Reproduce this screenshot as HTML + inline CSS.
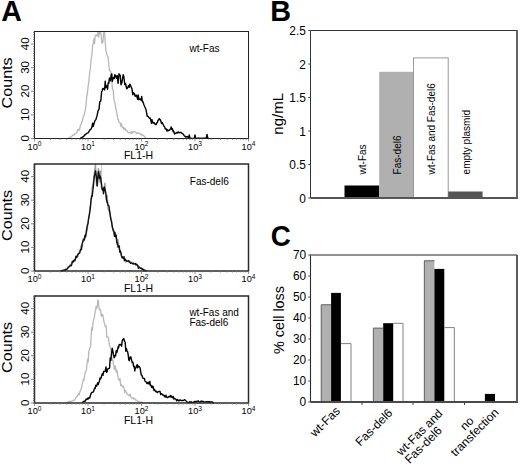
<!DOCTYPE html>
<html><head><meta charset="utf-8"><style>
html,body{margin:0;padding:0;background:#fff;width:520px;height:466px;overflow:hidden;}
svg{display:block;}
text{font-family:"Liberation Sans", sans-serif;fill:#000;}
</style></head><body>
<svg width="520" height="466" viewBox="0 0 520 466">
<text x="0" y="0" font-size="29" font-weight="bold" transform="translate(1.3,21.2) scale(0.985,1)">A</text>
<path d="M67.50,138.50L68.10,138.43L68.70,138.28L69.30,137.74L69.90,137.25L70.50,136.87L71.00,137.00L71.70,136.50L72.30,135.61L72.90,134.94L73.50,135.28L74.10,134.82L74.70,134.62L75.30,133.32L75.90,133.44L76.50,133.00L77.10,131.93L77.70,129.78L78.30,130.36L78.90,129.16L79.50,130.04L80.00,127.19L80.70,124.75L81.30,124.45L81.90,121.53L82.50,120.61L83.10,117.23L84.00,115.30L84.90,112.02L85.50,108.59L86.00,105.21L86.70,96.84L87.30,94.23L87.90,88.19L88.80,81.54L89.70,72.62L90.30,69.45L90.90,61.50L91.50,56.89L92.00,53.74L92.70,44.90L93.30,43.11L94.00,38.61L94.50,43.80L95.10,35.89L96.00,34.88L96.90,36.12L97.50,34.45L98.00,31.60L98.70,37.18L99.30,31.90L100.00,33.58L100.50,31.50L101.10,34.93L102.00,43.49L102.90,42.21L103.50,33.33L104.50,31.50L105.30,42.88L106.00,51.92L106.50,52.67L107.10,55.73L108.00,56.53L108.90,65.77L109.50,70.55L110.10,70.49L110.70,71.86L111.70,79.39L112.50,89.13L113.10,89.28L114.00,99.84L114.90,102.51L115.50,106.69L116.10,109.28L116.70,112.43L117.70,118.95L118.50,119.70L119.10,122.39L119.70,122.30L120.30,123.58L121.00,126.38L121.50,123.75L122.10,127.06L122.70,127.85L123.30,127.20L123.90,129.30L124.50,129.03L125.00,127.99L125.70,130.25L126.30,130.02L126.90,130.74L127.50,131.39L128.10,132.76L128.70,132.29L129.30,132.56L130.00,133.00L130.50,133.16L131.10,131.57L131.70,133.50L132.30,131.80L132.90,132.72L133.50,131.51L134.10,131.49L135.00,132.00L135.90,132.09L136.50,133.89L137.10,133.30L137.70,132.69L138.30,133.14L138.90,132.84L139.50,133.78L140.00,134.00L140.70,134.02L141.30,135.05L141.90,134.23L142.50,135.08L143.10,135.15L144.00,136.00L144.90,136.89L145.50,138.03L146.00,138.50" fill="none" stroke="#b8b8b8" stroke-width="1.3" stroke-linejoin="round"/>
<path d="M80.00,138.50L80.60,138.50L81.20,137.59L81.80,137.49L82.40,137.05L83.00,136.95L84.00,136.00L84.80,134.71L85.40,134.73L86.00,134.08L86.60,133.42L87.20,133.08L88.00,133.00L89.00,131.29L89.60,130.64L90.20,129.33L91.00,129.36L92.00,126.82L92.60,123.21L93.20,126.54L94.00,123.58L95.00,120.64L96.00,119.33L96.80,116.50L97.40,114.17L98.00,110.77L99.00,109.29L99.80,101.82L100.80,101.06L101.60,91.93L102.20,90.73L102.70,88.54L103.40,89.12L104.00,88.36L104.60,89.95L105.20,81.26L105.80,87.46L106.40,86.81L107.00,85.71L107.50,89.23L108.20,82.71L108.80,83.31L109.40,78.00L110.40,80.80L111.20,75.01L111.80,73.82L112.30,81.43L113.00,78.50L113.60,77.56L114.20,78.59L114.80,74.76L115.40,75.30L116.20,78.15L117.20,75.55L118.10,83.30L119.00,73.74L119.50,74.98L120.20,75.15L121.00,84.69L122.00,82.16L122.60,78.25L123.20,74.66L123.80,76.49L124.80,84.61L125.60,83.51L126.20,86.76L126.80,88.82L127.70,87.63L128.60,85.61L129.20,87.27L129.80,84.22L130.60,85.51L132.00,88.91L132.80,94.75L133.40,92.64L134.40,93.80L135.20,96.40L135.80,95.41L136.40,95.20L137.00,97.04L137.60,99.37L138.20,94.91L139.00,99.70L140.00,99.14L140.60,98.92L141.20,100.39L141.70,96.44L142.40,101.76L143.00,101.79L144.00,104.98L144.80,106.70L145.40,108.22L146.00,109.63L146.50,112.43L147.20,116.23L148.00,116.30L149.00,117.70L149.60,118.32L150.20,118.03L150.80,120.41L151.50,123.34L152.00,119.62L152.60,122.42L153.20,122.93L153.80,122.39L154.40,123.28L155.40,124.45L156.20,124.50L156.80,122.78L157.40,122.52L158.00,120.23L158.60,120.15L159.20,118.63L159.80,119.65L160.40,119.59L161.00,121.83L161.60,123.57L162.20,122.59L163.00,124.21L164.00,126.32L164.60,126.77L165.20,128.67L165.80,129.08L166.40,128.94L167.00,131.00L167.60,129.76L168.20,130.79L168.80,130.34L169.40,130.37L170.00,129.27L170.60,128.85L171.20,126.86L171.70,129.24L172.40,128.63L173.00,131.48L173.60,131.08L174.60,134.00L175.40,133.15L176.00,133.36L176.60,132.67L177.20,132.17L177.80,132.96L178.50,132.00L179.00,132.66L179.60,132.69L180.20,132.42L180.80,132.34L181.40,132.82L182.30,133.50L183.20,134.11L183.80,135.01L184.40,136.01L185.00,136.19L186.00,137.30L186.80,136.58L187.50,136.50L188.00,137.21L188.50,138.30L189.30,135.00L190.00,138.30L191.00,138.46L191.60,138.32L192.20,138.33L192.80,138.33L193.40,138.37L194.30,138.30L195.00,135.00L195.70,138.30L196.40,138.32L197.00,138.45L197.60,138.40L198.20,137.94L198.80,138.28L199.40,138.50L200.00,138.14L200.60,138.31L201.20,138.43L201.80,138.30L202.40,138.47L203.00,138.14L203.60,138.14L204.20,138.28L204.80,138.21L205.40,138.16L206.20,138.30L207.00,134.50L207.80,138.30L208.40,138.45L209.00,138.50" fill="none" stroke="#000" stroke-width="1.4" stroke-linejoin="round"/>
<rect x="34.5" y="31.5" width="214.0" height="107.0" fill="none" stroke="#222" stroke-width="1"/>
<path d="M31.0,138.50H34.5M33.0,136.14H34.5M33.0,133.78H34.5M33.0,131.42H34.5M33.0,129.06H34.5M33.0,126.70H34.5M33.0,124.34H34.5M33.0,121.98H34.5M33.0,119.62H34.5M33.0,117.26H34.5M31.0,114.90H34.5M33.0,112.54H34.5M33.0,110.18H34.5M33.0,107.82H34.5M33.0,105.46H34.5M33.0,103.10H34.5M33.0,100.74H34.5M33.0,98.38H34.5M33.0,96.02H34.5M33.0,93.66H34.5M31.0,91.30H34.5M33.0,88.94H34.5M33.0,86.58H34.5M33.0,84.22H34.5M33.0,81.86H34.5M33.0,79.50H34.5M33.0,77.14H34.5M33.0,74.78H34.5M33.0,72.42H34.5M33.0,70.06H34.5M31.0,67.70H34.5M33.0,65.34H34.5M33.0,62.98H34.5M33.0,60.62H34.5M33.0,58.26H34.5M33.0,55.90H34.5M33.0,53.54H34.5M33.0,51.18H34.5M33.0,48.82H34.5M33.0,46.46H34.5M31.0,44.10H34.5M33.0,41.74H34.5M33.0,39.38H34.5M33.0,37.02H34.5M33.0,34.66H34.5M33.0,32.30H34.5" stroke="#666" stroke-width="0.8" fill="none"/>
<path d="M34.50,138.5V141.5M50.61,138.5V140.1M60.03,138.5V140.1M66.71,138.5V140.1M71.89,138.5V140.1M76.13,138.5V140.1M79.71,138.5V140.1M82.82,138.5V140.1M85.55,138.5V140.1M88.00,138.5V141.5M104.11,138.5V140.1M113.53,138.5V140.1M120.21,138.5V140.1M125.39,138.5V140.1M129.63,138.5V140.1M133.21,138.5V140.1M136.32,138.5V140.1M139.05,138.5V140.1M141.50,138.5V141.5M157.61,138.5V140.1M167.03,138.5V140.1M173.71,138.5V140.1M178.89,138.5V140.1M183.13,138.5V140.1M186.71,138.5V140.1M189.82,138.5V140.1M192.55,138.5V140.1M195.00,138.5V141.5M211.11,138.5V140.1M220.53,138.5V140.1M227.21,138.5V140.1M232.39,138.5V140.1M236.63,138.5V140.1M240.21,138.5V140.1M243.32,138.5V140.1M246.05,138.5V140.1M248.50,138.5V141.5" stroke="#777" stroke-width="0.8" fill="none"/>
<text transform="translate(28.8,138.20) rotate(-90)" text-anchor="middle" font-size="11.5">0</text>
<text transform="translate(28.8,114.60) rotate(-90)" text-anchor="middle" font-size="11.5">10</text>
<text transform="translate(28.8,91.00) rotate(-90)" text-anchor="middle" font-size="11.5">20</text>
<text transform="translate(28.8,67.40) rotate(-90)" text-anchor="middle" font-size="11.5">30</text>
<text transform="translate(28.8,43.80) rotate(-90)" text-anchor="middle" font-size="11.5">40</text>
<text x="34.50" y="149.7" text-anchor="middle" font-size="9.2">10<tspan font-size="6.6" dy="-3.6">0</tspan></text>
<text x="88.00" y="149.7" text-anchor="middle" font-size="9.2">10<tspan font-size="6.6" dy="-3.6">1</tspan></text>
<text x="141.50" y="149.7" text-anchor="middle" font-size="9.2">10<tspan font-size="6.6" dy="-3.6">2</tspan></text>
<text x="195.00" y="149.7" text-anchor="middle" font-size="9.2">10<tspan font-size="6.6" dy="-3.6">3</tspan></text>
<text x="248.50" y="149.7" text-anchor="middle" font-size="9.2">10<tspan font-size="6.6" dy="-3.6">4</tspan></text>
<text x="138.5" y="159.2" text-anchor="middle" font-size="10.5">FL1-H</text>
<text transform="translate(11.6,82.9) rotate(-90) scale(1.07,1)" text-anchor="middle" font-size="15.1">Counts</text>
<text x="189.5" y="52.2" font-size="10">wt-Fas</text>
<path d="M61.00,271.00L61.60,270.82L62.20,270.84L62.80,270.23L63.40,270.48L64.00,269.98L64.60,269.78L65.20,270.28L65.80,269.53L66.40,269.27L67.00,269.10L67.60,268.73L68.20,268.27L68.80,266.98L69.40,266.65L70.00,264.96L70.60,264.64L71.20,263.87L71.80,262.47L72.40,261.58L73.00,260.72L73.50,261.29L74.20,260.40L74.80,259.44L75.40,258.99L76.00,256.77L76.60,257.22L77.20,256.74L77.80,256.50L78.40,253.91L79.00,253.59L79.70,250.71L80.20,250.76L80.80,246.45L81.40,245.32L82.20,246.09L83.20,238.27L83.80,241.13L84.40,238.68L85.00,235.91L85.60,235.47L86.50,233.02L87.40,228.92L88.00,223.12L88.60,218.96L89.10,216.06L89.80,208.97L90.40,205.70L91.00,198.65L91.60,199.26L92.20,188.24L93.20,183.68L94.20,174.92L95.50,164.00L96.50,185.57L97.20,179.26L98.50,168.70L99.50,177.09L100.00,182.07L100.60,171.10L101.50,188.28L102.30,189.67L103.00,190.53L103.50,188.81L104.20,189.88L104.90,183.06L105.40,190.12L106.00,196.36L106.60,202.71L107.20,195.51L108.00,208.37L109.00,211.16L109.80,211.36L110.80,217.95L111.40,219.34L112.30,227.84L113.20,228.54L113.80,230.08L114.40,232.38L115.00,234.74L115.50,236.71L116.20,237.78L116.80,244.18L117.40,240.04L118.00,239.56L118.70,246.73L119.20,248.36L119.80,251.00L120.40,252.26L121.00,254.32L121.70,257.15L122.20,258.19L122.80,257.17L123.40,257.71L124.00,260.45L124.60,259.50L125.20,258.50L125.80,262.06L126.60,261.20L127.60,260.49L128.20,260.29L128.80,261.88L129.40,261.23L130.00,261.36L130.60,261.49L131.50,262.60L132.40,264.08L133.00,263.02L133.60,262.39L134.20,264.16L134.80,263.84L135.40,264.56L136.00,264.97L136.50,264.20L137.20,264.78L137.80,265.40L138.40,266.07L139.00,266.04L139.60,267.66L140.20,267.90L140.80,268.84L141.40,268.58L142.00,268.70L142.60,269.00L143.20,269.12L143.80,269.44L144.40,269.89L145.00,270.10L145.60,270.52L146.40,271.00" fill="none" stroke="#9a9a9a" stroke-width="1.3" stroke-linejoin="round"/>
<path d="M61.00,271.00L61.60,270.81L62.20,270.70L62.80,270.33L63.40,270.33L64.00,270.30L64.60,269.98L65.20,270.17L65.80,269.17L66.40,269.31L67.00,269.10L67.60,268.08L68.20,267.30L68.80,266.89L69.40,266.43L70.00,265.87L70.60,265.24L71.20,265.82L71.80,264.15L72.40,261.51L73.00,262.26L73.50,260.96L74.20,260.08L74.80,260.97L75.40,258.71L76.00,256.15L76.60,257.62L77.20,256.18L77.80,254.39L78.40,253.83L79.00,253.33L79.70,253.07L80.20,250.85L80.80,249.41L81.40,249.76L82.20,243.35L83.20,240.39L83.80,239.50L84.40,239.91L85.00,235.26L85.60,237.12L86.50,229.82L87.40,225.06L88.00,223.46L88.60,218.42L89.10,216.03L89.80,212.09L90.40,207.44L91.00,200.77L91.60,196.02L92.20,196.19L93.20,187.54L94.20,176.86L95.50,170.96L96.50,178.10L97.20,185.93L98.50,171.36L99.50,178.47L100.00,176.04L100.60,177.45L101.50,184.10L102.30,190.01L103.00,188.35L103.50,193.78L104.20,186.85L104.90,188.98L105.40,191.28L106.00,194.87L106.60,199.91L107.20,201.78L108.00,205.20L109.00,206.03L109.80,212.55L110.80,219.15L111.40,221.24L112.30,226.60L113.20,230.89L113.80,231.20L114.40,236.19L115.00,232.54L115.50,236.61L116.20,235.18L116.80,242.28L117.40,243.02L118.00,247.16L118.70,246.40L119.20,245.86L119.80,252.15L120.40,250.89L121.00,253.05L121.70,256.61L122.20,257.83L122.80,257.11L123.40,258.27L124.00,256.68L124.60,260.67L125.20,259.38L125.80,260.01L126.60,261.03L127.60,261.16L128.20,261.49L128.80,260.83L129.40,261.83L130.00,262.60L130.60,263.39L131.50,262.90L132.40,263.29L133.00,263.62L133.60,263.94L134.20,263.81L134.80,263.60L135.40,263.56L136.00,264.91L136.50,264.20L137.20,265.10L137.80,265.51L138.40,268.26L139.00,267.21L139.60,267.76L140.20,267.90L140.80,268.27L141.40,268.05L142.00,269.27L142.60,269.07L143.20,269.42L143.80,270.03L144.40,270.28L145.00,270.36L145.60,270.60L146.40,271.00" fill="none" stroke="#111" stroke-width="1.4" stroke-linejoin="round"/>
<path d="M101.6,164.5V177" stroke="#c4c4c4" stroke-width="0.9" fill="none"/>
<rect x="34.5" y="164.0" width="214.0" height="107.0" fill="none" stroke="#2a2a2a" stroke-width="1.5"/>
<path d="M31.0,271.00H34.5M33.0,268.64H34.5M33.0,266.28H34.5M33.0,263.92H34.5M33.0,261.56H34.5M33.0,259.20H34.5M33.0,256.84H34.5M33.0,254.48H34.5M33.0,252.12H34.5M33.0,249.76H34.5M31.0,247.40H34.5M33.0,245.04H34.5M33.0,242.68H34.5M33.0,240.32H34.5M33.0,237.96H34.5M33.0,235.60H34.5M33.0,233.24H34.5M33.0,230.88H34.5M33.0,228.52H34.5M33.0,226.16H34.5M31.0,223.80H34.5M33.0,221.44H34.5M33.0,219.08H34.5M33.0,216.72H34.5M33.0,214.36H34.5M33.0,212.00H34.5M33.0,209.64H34.5M33.0,207.28H34.5M33.0,204.92H34.5M33.0,202.56H34.5M31.0,200.20H34.5M33.0,197.84H34.5M33.0,195.48H34.5M33.0,193.12H34.5M33.0,190.76H34.5M33.0,188.40H34.5M33.0,186.04H34.5M33.0,183.68H34.5M33.0,181.32H34.5M33.0,178.96H34.5M31.0,176.60H34.5M33.0,174.24H34.5M33.0,171.88H34.5M33.0,169.52H34.5M33.0,167.16H34.5M33.0,164.80H34.5" stroke="#666" stroke-width="0.8" fill="none"/>
<path d="M34.50,271.0V274.0M50.61,271.0V272.6M60.03,271.0V272.6M66.71,271.0V272.6M71.89,271.0V272.6M76.13,271.0V272.6M79.71,271.0V272.6M82.82,271.0V272.6M85.55,271.0V272.6M88.00,271.0V274.0M104.11,271.0V272.6M113.53,271.0V272.6M120.21,271.0V272.6M125.39,271.0V272.6M129.63,271.0V272.6M133.21,271.0V272.6M136.32,271.0V272.6M139.05,271.0V272.6M141.50,271.0V274.0M157.61,271.0V272.6M167.03,271.0V272.6M173.71,271.0V272.6M178.89,271.0V272.6M183.13,271.0V272.6M186.71,271.0V272.6M189.82,271.0V272.6M192.55,271.0V272.6M195.00,271.0V274.0M211.11,271.0V272.6M220.53,271.0V272.6M227.21,271.0V272.6M232.39,271.0V272.6M236.63,271.0V272.6M240.21,271.0V272.6M243.32,271.0V272.6M246.05,271.0V272.6M248.50,271.0V274.0" stroke="#777" stroke-width="0.8" fill="none"/>
<text transform="translate(28.8,270.70) rotate(-90)" text-anchor="middle" font-size="11.5">0</text>
<text transform="translate(28.8,247.10) rotate(-90)" text-anchor="middle" font-size="11.5">10</text>
<text transform="translate(28.8,223.50) rotate(-90)" text-anchor="middle" font-size="11.5">20</text>
<text transform="translate(28.8,199.90) rotate(-90)" text-anchor="middle" font-size="11.5">30</text>
<text transform="translate(28.8,176.30) rotate(-90)" text-anchor="middle" font-size="11.5">40</text>
<text x="34.50" y="282.2" text-anchor="middle" font-size="9.2">10<tspan font-size="6.6" dy="-3.6">0</tspan></text>
<text x="88.00" y="282.2" text-anchor="middle" font-size="9.2">10<tspan font-size="6.6" dy="-3.6">1</tspan></text>
<text x="141.50" y="282.2" text-anchor="middle" font-size="9.2">10<tspan font-size="6.6" dy="-3.6">2</tspan></text>
<text x="195.00" y="282.2" text-anchor="middle" font-size="9.2">10<tspan font-size="6.6" dy="-3.6">3</tspan></text>
<text x="248.50" y="282.2" text-anchor="middle" font-size="9.2">10<tspan font-size="6.6" dy="-3.6">4</tspan></text>
<text x="138.5" y="291.7" text-anchor="middle" font-size="10.5">FL1-H</text>
<text transform="translate(11.6,215.4) rotate(-90) scale(1.07,1)" text-anchor="middle" font-size="15.1">Counts</text>
<text x="189.8" y="185.2" font-size="10">Fas-del6</text>
<path d="M66.00,403.00L66.60,402.65L67.20,402.40L67.80,402.55L68.40,401.63L69.00,401.96L69.60,401.11L70.20,401.96L70.80,401.47L71.40,401.71L72.00,400.80L72.60,400.97L73.20,400.48L73.80,400.07L74.70,400.10L75.60,398.74L76.20,396.88L76.80,396.48L77.40,396.29L78.00,394.84L78.60,393.49L79.20,394.82L79.80,391.96L80.80,389.71L81.60,387.28L82.20,384.07L82.80,381.81L83.40,379.43L84.00,380.36L84.60,375.13L85.20,372.97L85.70,371.77L86.40,370.30L87.00,363.27L87.60,359.27L88.20,361.85L88.80,351.04L89.30,350.46L90.00,347.52L90.60,346.75L91.20,335.23L91.80,327.34L92.40,330.26L93.00,323.00L93.60,319.76L94.20,318.39L94.80,314.24L95.50,310.29L96.00,306.30L96.60,308.63L97.20,306.85L97.90,299.89L98.40,301.09L99.00,307.47L99.60,309.81L100.30,309.32L100.80,311.60L101.40,316.46L102.00,314.29L102.80,314.84L103.80,320.82L104.40,322.95L105.20,326.69L106.20,326.02L106.80,337.07L107.70,336.96L108.60,338.23L109.20,344.76L110.10,346.95L111.00,350.50L111.60,355.30L112.20,360.35L112.80,359.81L113.80,366.19L114.60,369.48L115.20,365.90L115.80,368.55L116.40,372.43L117.00,370.38L117.60,374.40L118.20,378.46L118.70,379.56L119.40,380.46L120.00,378.53L120.60,385.36L121.20,384.39L121.80,385.97L122.40,386.97L123.00,385.88L123.60,387.60L124.20,388.61L124.80,392.49L125.40,390.55L126.00,391.86L126.60,392.61L127.20,394.07L127.80,394.74L128.50,395.20L129.00,395.74L129.60,395.00L130.20,394.07L130.80,396.86L131.40,397.33L132.00,398.35L132.60,397.89L133.20,397.99L133.80,398.99L134.40,398.31L135.00,399.02L135.80,400.10L136.80,400.05L137.40,400.86L138.00,401.81L138.60,401.50L139.20,401.85L139.80,401.77L140.40,402.01L141.00,402.05L141.60,402.34L142.20,402.24L143.10,403.00" fill="none" stroke="#b8b8b8" stroke-width="1.3" stroke-linejoin="round"/>
<path d="M82.00,403.00L82.60,402.64L83.20,401.62L83.80,401.39L84.40,401.22L85.00,401.36L85.60,400.29L86.20,399.01L86.80,399.55L87.40,398.25L88.00,399.21L88.60,397.87L89.30,397.50L89.80,397.94L90.40,395.60L91.00,393.89L91.60,392.49L92.20,392.43L92.80,392.19L93.40,391.96L94.00,390.09L94.60,388.06L95.20,388.40L95.80,385.26L96.70,385.99L97.60,382.84L98.20,384.56L98.80,382.87L99.40,380.98L100.00,378.01L100.60,378.96L101.20,377.50L101.80,374.96L102.40,373.62L103.00,375.28L103.60,371.51L104.20,371.62L105.10,371.37L106.00,366.99L106.60,372.49L107.20,371.43L107.80,368.96L108.40,368.67L109.00,368.45L109.60,368.06L110.20,357.98L110.80,360.38L111.40,355.05L112.20,348.10L113.20,353.00L114.20,357.81L115.00,355.56L115.60,355.87L116.20,350.58L116.80,352.60L117.40,350.54L118.00,347.02L118.60,347.87L119.20,344.48L119.80,344.79L120.60,344.48L121.60,346.12L122.20,340.84L122.80,339.70L123.80,338.57L124.60,341.58L125.20,342.27L125.80,351.12L126.40,348.52L127.00,351.23L127.60,351.57L128.20,354.93L128.80,359.96L129.40,360.65L130.00,357.24L130.90,356.87L132.20,362.66L133.00,362.37L133.60,366.49L134.20,366.13L134.80,370.85L135.40,367.97L136.00,367.87L136.60,365.55L137.20,364.68L137.80,367.77L138.60,366.09L139.60,367.07L140.20,368.60L141.20,374.92L142.00,375.53L142.60,377.54L143.20,378.35L143.80,378.47L144.40,378.39L145.00,381.22L145.60,381.52L146.20,381.98L146.80,383.31L147.40,383.62L148.00,382.16L148.90,384.03L149.80,381.52L150.40,385.58L151.00,385.31L151.60,387.12L152.20,387.65L152.80,386.04L153.40,387.98L154.00,390.31L154.60,389.60L155.40,391.57L156.40,391.26L157.00,392.58L157.60,392.51L158.20,391.68L159.00,391.41L160.00,391.41L160.60,394.47L161.20,393.76L161.80,393.95L162.40,394.49L163.30,395.50L164.20,395.26L164.80,396.75L165.40,397.00L166.00,395.28L166.60,397.13L167.50,397.60L168.40,397.08L169.00,396.39L169.60,396.30L170.20,397.10L170.70,395.50L171.40,396.27L172.00,397.36L172.60,397.66L173.20,396.39L173.80,399.00L174.40,398.45L174.90,398.70L175.60,398.89L176.20,399.81L176.80,400.81L177.40,399.56L178.00,399.93L178.60,400.71L179.10,400.80L179.80,399.88L180.40,400.04L181.00,400.43L181.60,400.63L182.20,400.42L182.80,400.45L183.40,400.45L184.40,399.70L185.20,400.20L185.80,400.79L186.40,401.34L187.00,401.88L187.60,402.50L188.20,402.67L188.80,402.57L189.40,401.82L190.00,402.37L190.60,401.91L191.20,401.82L191.80,402.41L192.40,402.37L193.00,402.27L193.60,402.07L194.20,402.37L194.80,401.37L195.40,401.95L196.00,401.38L197.00,401.50L197.80,401.29L198.40,400.93L199.00,402.04L199.60,402.12L200.20,401.81L200.80,401.30L201.40,401.57L202.00,401.13L202.60,401.41L203.50,401.50L204.40,402.08L205.00,402.14L205.60,401.85L206.20,401.92L206.80,401.66L207.40,401.85L208.00,401.72L208.60,401.96L209.20,401.64L209.80,402.18L210.40,401.84L211.00,402.01L212.00,402.00L212.80,402.37L213.40,402.94L214.00,403.00" fill="none" stroke="#000" stroke-width="1.4" stroke-linejoin="round"/>
<rect x="34.5" y="296.0" width="214.0" height="107.0" fill="none" stroke="#2a2a2a" stroke-width="1.5"/>
<path d="M31.0,403.00H34.5M33.0,400.64H34.5M33.0,398.28H34.5M33.0,395.92H34.5M33.0,393.56H34.5M33.0,391.20H34.5M33.0,388.84H34.5M33.0,386.48H34.5M33.0,384.12H34.5M33.0,381.76H34.5M31.0,379.40H34.5M33.0,377.04H34.5M33.0,374.68H34.5M33.0,372.32H34.5M33.0,369.96H34.5M33.0,367.60H34.5M33.0,365.24H34.5M33.0,362.88H34.5M33.0,360.52H34.5M33.0,358.16H34.5M31.0,355.80H34.5M33.0,353.44H34.5M33.0,351.08H34.5M33.0,348.72H34.5M33.0,346.36H34.5M33.0,344.00H34.5M33.0,341.64H34.5M33.0,339.28H34.5M33.0,336.92H34.5M33.0,334.56H34.5M31.0,332.20H34.5M33.0,329.84H34.5M33.0,327.48H34.5M33.0,325.12H34.5M33.0,322.76H34.5M33.0,320.40H34.5M33.0,318.04H34.5M33.0,315.68H34.5M33.0,313.32H34.5M33.0,310.96H34.5M31.0,308.60H34.5M33.0,306.24H34.5M33.0,303.88H34.5M33.0,301.52H34.5M33.0,299.16H34.5M33.0,296.80H34.5" stroke="#666" stroke-width="0.8" fill="none"/>
<path d="M34.50,403.0V406.0M50.61,403.0V404.6M60.03,403.0V404.6M66.71,403.0V404.6M71.89,403.0V404.6M76.13,403.0V404.6M79.71,403.0V404.6M82.82,403.0V404.6M85.55,403.0V404.6M88.00,403.0V406.0M104.11,403.0V404.6M113.53,403.0V404.6M120.21,403.0V404.6M125.39,403.0V404.6M129.63,403.0V404.6M133.21,403.0V404.6M136.32,403.0V404.6M139.05,403.0V404.6M141.50,403.0V406.0M157.61,403.0V404.6M167.03,403.0V404.6M173.71,403.0V404.6M178.89,403.0V404.6M183.13,403.0V404.6M186.71,403.0V404.6M189.82,403.0V404.6M192.55,403.0V404.6M195.00,403.0V406.0M211.11,403.0V404.6M220.53,403.0V404.6M227.21,403.0V404.6M232.39,403.0V404.6M236.63,403.0V404.6M240.21,403.0V404.6M243.32,403.0V404.6M246.05,403.0V404.6M248.50,403.0V406.0" stroke="#777" stroke-width="0.8" fill="none"/>
<text transform="translate(28.8,402.70) rotate(-90)" text-anchor="middle" font-size="11.5">0</text>
<text transform="translate(28.8,379.10) rotate(-90)" text-anchor="middle" font-size="11.5">10</text>
<text transform="translate(28.8,355.50) rotate(-90)" text-anchor="middle" font-size="11.5">20</text>
<text transform="translate(28.8,331.90) rotate(-90)" text-anchor="middle" font-size="11.5">30</text>
<text transform="translate(28.8,308.30) rotate(-90)" text-anchor="middle" font-size="11.5">40</text>
<text x="34.50" y="414.2" text-anchor="middle" font-size="9.2">10<tspan font-size="6.6" dy="-3.6">0</tspan></text>
<text x="88.00" y="414.2" text-anchor="middle" font-size="9.2">10<tspan font-size="6.6" dy="-3.6">1</tspan></text>
<text x="141.50" y="414.2" text-anchor="middle" font-size="9.2">10<tspan font-size="6.6" dy="-3.6">2</tspan></text>
<text x="195.00" y="414.2" text-anchor="middle" font-size="9.2">10<tspan font-size="6.6" dy="-3.6">3</tspan></text>
<text x="248.50" y="414.2" text-anchor="middle" font-size="9.2">10<tspan font-size="6.6" dy="-3.6">4</tspan></text>
<text x="138.5" y="423.7" text-anchor="middle" font-size="10.5">FL1-H</text>
<text transform="translate(11.6,347.4) rotate(-90) scale(1.07,1)" text-anchor="middle" font-size="15.1">Counts</text>
<text x="189.4" y="315.6" font-size="10">wt-Fas and</text>
<text x="189.4" y="325.6" font-size="10">Fas-del6</text>
<text x="270.3" y="21.3" font-size="28.8" font-weight="bold">B</text>
<rect x="344.5" y="185.5" width="34.70" height="12.50" fill="#000" />
<rect x="379.2" y="71.8" width="34.30" height="126.20" fill="#b0b0b0" />
<rect x="413.5" y="57.9" width="34.70" height="140.10" fill="#fff" stroke="#999" stroke-width="1"/>
<rect x="448.2" y="191.5" width="34.40" height="6.50" fill="#555" />
<path d="M310.5,198.0V30.5H517" stroke="#333" stroke-width="1" fill="none"/>
<path d="M517,30.0V198.0H310.5" stroke="#555" stroke-width="1.8" fill="none"/>
<text x="305.9" y="202.70" text-anchor="end" font-size="11.9">0</text>
<text x="305.9" y="169.20" text-anchor="end" font-size="11.9">0.5</text>
<text x="305.9" y="135.70" text-anchor="end" font-size="11.9">1</text>
<text x="305.9" y="102.20" text-anchor="end" font-size="11.9">1.5</text>
<text x="305.9" y="68.70" text-anchor="end" font-size="11.9">2</text>
<text x="305.9" y="35.20" text-anchor="end" font-size="11.9">2.5</text>
<path d="M308.3,198.00H310.5M308.3,164.50H310.5M308.3,131.00H310.5M308.3,97.50H310.5M308.3,64.00H310.5M308.3,30.50H310.5" stroke="#444" stroke-width="1" fill="none"/>
<text transform="translate(366.3,174.4) rotate(-90)" font-size="10">wt-Fas</text>
<text transform="translate(401.4,174.4) rotate(-90)" font-size="10">Fas-del6</text>
<text transform="translate(435.1,174.4) rotate(-90)" font-size="10">wt-Fas and Fas-del6</text>
<text transform="translate(469.9,174.4) rotate(-90)" font-size="10">empty plasmid</text>
<text transform="translate(282.6,113.8) rotate(-90)" text-anchor="middle" font-size="15">ng/mL</text>
<text x="0" y="0" font-size="29" font-weight="bold" transform="translate(270.8,246.0) scale(0.96,1)">C</text>
<rect x="320.8" y="304.3" width="10.30" height="97.70" fill="#b0b0b0"/>
<path d="M321.3,402V304.8H331.1" fill="none" stroke="#6a6a6a" stroke-width="1"/>
<rect x="331.1" y="292.9" width="9.80" height="109.10" fill="#000"/>
<path d="M340.9,343.6H351.0V402" fill="none" stroke="#808080" stroke-width="1"/>
<rect x="372.9" y="327.7" width="10.30" height="74.30" fill="#b0b0b0"/>
<path d="M373.4,402V328.2H383.2" fill="none" stroke="#6a6a6a" stroke-width="1"/>
<rect x="383.2" y="323.2" width="10.00" height="78.80" fill="#000"/>
<path d="M393.2,323.3H403.0V402" fill="none" stroke="#808080" stroke-width="1"/>
<rect x="423.9" y="260.3" width="10.50" height="141.70" fill="#b0b0b0"/>
<path d="M424.4,402V260.8H434.4" fill="none" stroke="#6a6a6a" stroke-width="1"/>
<rect x="434.4" y="268.9" width="9.90" height="133.10" fill="#000"/>
<path d="M444.3,327.6H454.3V402" fill="none" stroke="#808080" stroke-width="1"/>
<rect x="484.9" y="393.9" width="10.10" height="8.10" fill="#000"/>
<path d="M310.5,402V255.0" stroke="#2a2a2a" stroke-width="1.1" fill="none"/>
<path d="M310.0,255.0H517" stroke="#6a6a6a" stroke-width="1.6" fill="none"/>
<path d="M517,255.0V402H310.5" stroke="#4a4a4a" stroke-width="1.8" fill="none"/>
<text x="306.2" y="405.70" text-anchor="end" font-size="11.9">0</text>
<text x="306.2" y="384.70" text-anchor="end" font-size="11.9">10</text>
<text x="306.2" y="363.70" text-anchor="end" font-size="11.9">20</text>
<text x="306.2" y="342.70" text-anchor="end" font-size="11.9">30</text>
<text x="306.2" y="321.70" text-anchor="end" font-size="11.9">40</text>
<text x="306.2" y="300.70" text-anchor="end" font-size="11.9">50</text>
<text x="306.2" y="279.70" text-anchor="end" font-size="11.9">60</text>
<text x="306.2" y="258.70" text-anchor="end" font-size="11.9">70</text>
<path d="M308.3,402.00H310.5M308.3,381.00H310.5M308.3,360.00H310.5M308.3,339.00H310.5M308.3,318.00H310.5M308.3,297.00H310.5M308.3,276.00H310.5M308.3,255.00H310.5M362,402V405M413,402V405M464.5,402V405" stroke="#444" stroke-width="1" fill="none"/>
<text transform="translate(284.2,320.0) rotate(-90)" text-anchor="middle" font-size="14.4">% cell loss</text>
<text transform="translate(314.98,437.59) rotate(-45)" font-size="12.2">wt-Fas</text>
<text transform="translate(360.32,446.75) rotate(-45)" font-size="12">Fas-del6</text>
<text transform="translate(401.37,456.21) rotate(-45)" font-size="12">wt-Fas and</text><text transform="translate(409.69,464.17) rotate(-45)" font-size="12">Fas-del6</text>
<text transform="translate(465.09,430.89) rotate(-45)" font-size="12">no</text><text transform="translate(455.52,457.05) rotate(-45)" font-size="12">transfection</text>
</svg>
</body></html>
